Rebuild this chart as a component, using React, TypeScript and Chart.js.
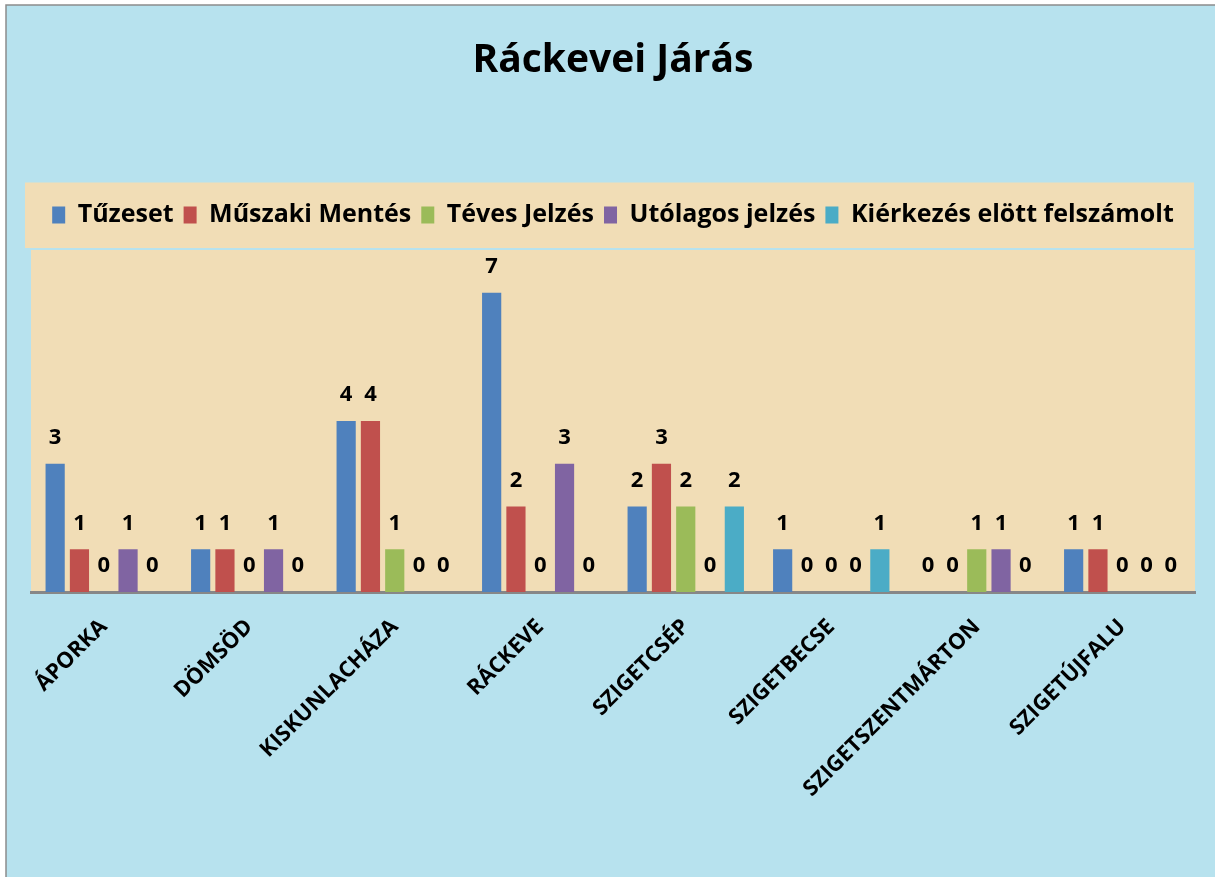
import React, { useEffect, useRef } from "react";
import { Chart, registerables } from "chart.js";

Chart.register(...registerables);

const categories = [
  "ÁPORKA",
  "DÖMSÖD",
  "KISKUNLACHÁZA",
  "RÁCKEVE",
  "SZIGETCSÉP",
  "SZIGETBECSE",
  "SZIGETSZENTMÁRTON",
  "SZIGETÚJFALU",
];

const seriesNames = [
  "Tűzeset",
  "Műszaki Mentés",
  "Téves Jelzés",
  "Utólagos jelzés",
  "Kiérkezés elött felszámolt",
];

const tuzeset = [3, 1, 4, 7, 2, 1, 0, 1];
const muszakiMentes = [1, 1, 4, 2, 3, 0, 0, 1];
const tevesJelzes = [0, 0, 1, 0, 2, 0, 1, 0];
const utolagosJelzes = [1, 1, 0, 3, 0, 0, 1, 0];
const kierkezesElott = [0, 0, 0, 0, 2, 1, 0, 0];

const seriesColors = ["#4f81bd", "#c0504d", "#9bbb59", "#8064a2", "#4bacc6"];

const FONT = "'Open Sans', 'DejaVu Sans', sans-serif";

const backgroundPlugin = {
  id: "bgPanels",
  beforeDraw(chart: any) {
    const { ctx, width, height, chartArea, legend } = chart;
    ctx.save();
    ctx.fillStyle = "#ffffff";
    ctx.fillRect(0, 0, width, height);
    ctx.fillStyle = "#b7e2ee";
    ctx.fillRect(6, 5, width - 6, height - 5);
    ctx.strokeStyle = "#8c8c8c";
    ctx.lineWidth = 1.5;
    ctx.beginPath();
    ctx.moveTo(6, height);
    ctx.lineTo(6, 5);
    ctx.lineTo(width, 5);
    ctx.stroke();
    // legend panel
    ctx.fillStyle = "#f1ddb6";
    const lt = legend ? legend.top - 10 : 182;
    ctx.fillRect(25, lt, 1169, chartArea.top - 2 - lt);
    // plot panel
    ctx.fillRect(
      chartArea.left,
      chartArea.top,
      chartArea.right - chartArea.left,
      chartArea.bottom - chartArea.top
    );
    ctx.restore();
  },
};

const valueLabelPlugin = {
  id: "valueLabels",
  afterDatasetsDraw(chart: any) {
    const { ctx } = chart;
    ctx.save();
    ctx.font = `bold 22px ${FONT}`;
    ctx.fillStyle = "#000000";
    ctx.textAlign = "center";
    ctx.textBaseline = "middle";
    chart.data.datasets.forEach((ds: any, di: number) => {
      const meta = chart.getDatasetMeta(di);
      meta.data.forEach((bar: any, i: number) => {
        ctx.fillText(String(ds.data[i]), bar.x, bar.y - 26);
      });
    });
    ctx.restore();
  },
};

export default function App() {
  const canvasRef = useRef<HTMLCanvasElement | null>(null);

  useEffect(() => {
    if (!canvasRef.current) return;
    const allSeries = [tuzeset, muszakiMentes, tevesJelzes, utolagosJelzes, kierkezesElott];
    const chart = new Chart(canvasRef.current, {
      type: "bar",
      data: {
        labels: categories,
        datasets: allSeries.map((values, i) => ({
          label: seriesNames[i],
          data: values,
          backgroundColor: seriesColors[i],
          borderWidth: 0,
          categoryPercentage: 0.835,
          barPercentage: 0.79,
        })),
      },
      options: {
        animation: false,
        responsive: true,
        maintainAspectRatio: false,
        layout: { padding: { left: 31, right: 20, top: 0, bottom: 0 } },
        plugins: {
          title: {
            display: true,
            text: "Ráckevei Járás",
            color: "#000000",
            font: { family: FONT, size: 39, weight: "bold" },
            padding: { top: 37, bottom: 108.7 },
          },
          subtitle: {
            display: true,
            text: " ",
            position: "top",
            weight: 500,
            font: { size: 10 },
            padding: { top: 0.5, bottom: 0 },
          } as any,
          legend: {
            display: true,
            position: "top",
            labels: {
              color: "#000000",
              font: { family: FONT, size: 25, weight: "bold" },
              boxWidth: 13,
              boxHeight: 17,
              padding: 10,
            },
          },
          tooltip: { enabled: false },
        },
        scales: {
          x: {
            grid: { display: false, drawTicks: false },
            border: { display: true, color: "#878787", width: 3 },
            ticks: {
              color: "#000000",
              font: { family: FONT, size: 22, weight: "bold" },
              maxRotation: 45,
              minRotation: 45,
              padding: 22,
              autoSkip: false,
            },
            afterFit: (scale: any) => {
              scale.height = 285;
            },
          },
          y: {
            display: false,
            min: 0,
            max: 8,
          },
        },
      },
      plugins: [backgroundPlugin, valueLabelPlugin],
    });
    return () => chart.destroy();
  }, []);

  return (
    <div style={{ position: "absolute", left: 0, top: 0, width: 1215, height: 877 }}>
      <canvas ref={canvasRef} />
    </div>
  );
}
